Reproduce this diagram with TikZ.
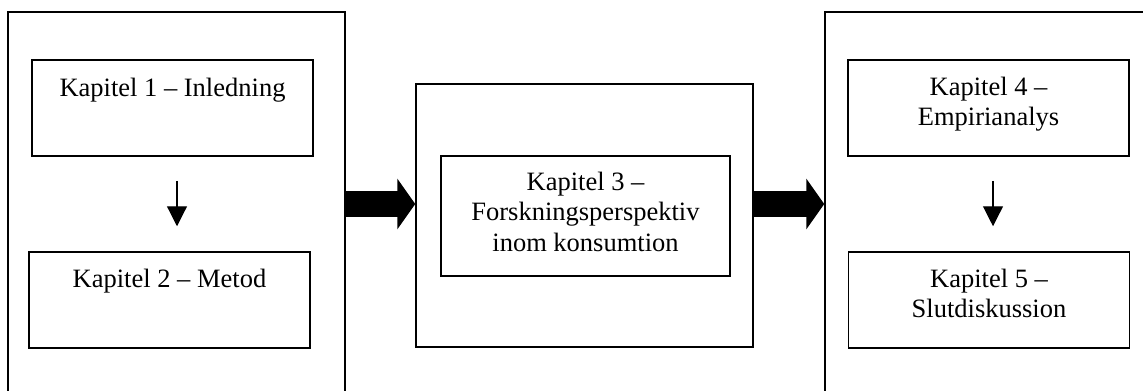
\documentclass[tikz,border=0pt]{standalone}
\usepackage{fontspec}
\setmainfont{Liberation Serif}
\usetikzlibrary{positioning,arrows.meta}

\tikzset{
  outerbox/.style = {draw, line width=0.75pt, rectangle, inner sep=0pt, minimum width=168.5pt},
  chapbox/.style  = {draw, line width=0.75pt, rectangle, inner sep=0pt, minimum width=140.5pt, minimum height=48pt},
  chaptext/.style = {inner sep=0pt, align=center, font=\fontsize{13.25}{15.25}\selectfont},
  bigarrow/.style = {line width=13pt, -{Triangle[width=25pt,length=9pt]}},
  smallarrow/.style = {line width=0.6pt, -{Triangle[width=10pt,length=10pt]}}
}

\begin{document}
\begin{tikzpicture}[x=0.5pt, y=-0.5pt]
        % Page frame
        \useasboundingbox (0,0) rectangle (1143,390);
        \clip (0,0) rectangle (1143,390);

        % Outer boxes (left and right run past the page edge)
        \node[outerbox, minimum height=199pt] (lbox) at (176.5,211) {};
        \node[outerbox, minimum height=131.5pt] (mbox) at (584.5,215.5) {};
        \node[outerbox, minimum height=199pt] (rbox) at (993.5,211) {};

        % Chapter boxes
        \node[chapbox] (k1box) at (172.5,108) {};
        \node[chapbox] (k2box) at (169.5,300) {};
        \node[chapbox, minimum width=144.5pt, minimum height=60pt] (k3box) at (585.5,216) {};
        \node[chapbox] (k4box) at (988.5,108) {};
        \node[chapbox] (k5box) at (989,300) {};

        % Chapter titles
        \node[chaptext, below=9pt of k1box.north] (k1) {Kapitel 1 – Inledning};
        \node[chaptext, below=8.5pt of k2box.north] (k2) {Kapitel 2 – Metod};
        \node[chaptext, below=8pt of k3box.north] (k3) {Kapitel 3 –\\Forskningsperspektiv\\inom konsumtion};
        \node[chaptext, below=8.5pt of k4box.north] (k4) {Kapitel 4 –\\Empirianalys};
        \node[chaptext, below=8.5pt of k5box.north] (k5) {Kapitel 5 –\\Slutdiskussion};

        % Arrows inside the side boxes
        \draw[smallarrow] ([xshift=2.25pt,yshift=-12pt]k1box.south) -- ([xshift=3.75pt,yshift=12.5pt]k2box.north);
        \draw[smallarrow] ([xshift=2.25pt,yshift=-12pt]k4box.south) -- ([xshift=2pt,yshift=12.5pt]k5box.north);

        % Big arrows between the outer boxes
        \draw[bigarrow] (lbox.east |- 0,204) -- (mbox.west |- 0,204);
        \draw[bigarrow] (mbox.east |- 0,204) -- (rbox.west |- 0,204);
\end{tikzpicture}
\end{document}
